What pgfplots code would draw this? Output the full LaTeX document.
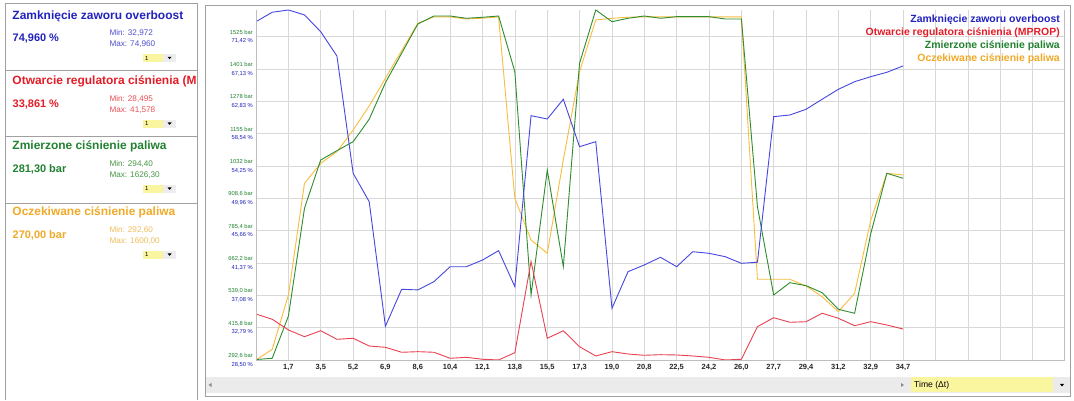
\documentclass[border=0pt]{standalone}
\usepackage{pgfplots}
\pgfplotsset{compat=1.18}
\usepackage{pgfplotstable}
\usepackage{fontspec}
\setmainfont{Liberation Sans}

\definecolor{cblue}{RGB}{34,34,190}
\definecolor{cred}{RGB}{228,28,40}
\definecolor{cgreen}{RGB}{34,130,50}
\definecolor{corange}{RGB}{240,170,40}
\definecolor{mblue}{RGB}{80,80,205}
\definecolor{mred}{RGB}{232,80,85}
\definecolor{mgreen}{RGB}{70,150,70}
\definecolor{morange}{RGB}{240,190,90}
\definecolor{lblue}{RGB}{70,70,225}
\definecolor{lred}{RGB}{232,65,80}
\definecolor{lgreen}{RGB}{45,140,45}
\definecolor{lorange}{RGB}{250,188,60}
\definecolor{gridc}{RGB}{216,216,216}
\definecolor{axisc}{RGB}{190,190,190}
\definecolor{framec}{RGB}{160,160,160}
\definecolor{ddyellow}{RGB}{250,246,160}

% time [s], overboost [%], MPROP [%], measured [bar], expected [bar]
\pgfplotstableread{
t over mprop meas exp
0.00 73.41 34.60 294.4 292.6
0.87 74.66 33.90 299.1 333.4
1.74 74.96 32.48 460.3 540.3
2.60 74.30 31.59 870.7 965.9
3.47 72.08 32.38 1054.7 1042.1
4.34 68.85 31.24 1090.2 1086.4
5.21 53.28 31.38 1124.5 1169.0
6.07 49.51 30.35 1209.8 1260.5
6.94 32.97 30.18 1349.3 1366.0
7.81 37.88 29.52 1461.3 1471.2
8.68 37.80 29.60 1573.0 1575.6
9.54 38.89 29.52 1603.4 1600.0
10.41 40.88 28.72 1603.4 1600.0
11.28 40.88 28.85 1594.7 1592.0
12.15 41.77 28.59 1598.5 1595.0
13.01 43.01 28.50 1603.4 1600.0
13.88 38.23 29.46 1391.2 908.8
14.75 60.93 41.58 540.3 749.9
15.62 60.49 31.38 1016.6 699.2
16.48 63.11 32.38 648.1 1054.7
17.35 56.81 30.26 1423.2 1391.2
18.22 57.48 29.03 1626.3 1588.2
19.09 35.36 29.60 1581.7 1594.7
19.95 40.22 29.29 1594.7 1598.5
20.82 41.11 29.12 1603.4 1600.0
21.69 42.13 29.20 1594.7 1600.0
22.56 40.88 29.16 1600.8 1600.0
23.42 42.87 29.03 1600.8 1600.0
24.29 42.66 28.85 1600.8 1600.0
25.16 42.21 28.50 1592.0 1600.0
26.03 41.33 28.59 1592.0 1600.0
26.89 41.47 32.92 876.8 600.1
27.76 60.80 34.11 540.3 600.1
28.63 61.02 33.50 587.2 600.1
29.50 61.78 33.58 575.7 574.6
30.36 63.11 34.70 549.1 533.8
31.23 64.43 34.03 485.8 476.7
32.10 65.44 33.05 470.6 546.8
32.97 66.11 33.58 775.4 826.1
33.83 66.69 33.14 1004.0 1004.0
34.70 67.53 32.61 985.0 997.6
}\logdata

% one channel box of the left panel: #1 title y (px from top), #2 colour, #3 light colour,
% #4 title, #5 value, #6 min, #7 max
\newcommand\panel[7]{%
  \node[anchor=west,inner sep=0,text=#2,font=\fontsize{12}{13}\selectfont\bfseries] at (12.3,{400-#1}) {#4};
  \node[anchor=west,inner sep=0,text=#2,font=\fontsize{11}{13}\selectfont\bfseries] at (12.5,{400-#1-22.5}) {#5};
  \node[anchor=west,inner sep=0,text=#3,font=\fontsize{8.2}{9}\selectfont] at (109.3,{400-#1-17}) {Min: #6};
  \node[anchor=west,inner sep=0,text=#3,font=\fontsize{8.2}{9}\selectfont] at (109.3,{400-#1-28}) {Max: #7};
  \fill[ddyellow] (142.7,{400-#1-38}) rectangle (163.3,{400-#1-46});
  \fill[black!7] (163.3,{400-#1-38}) rectangle (176,{400-#1-46});
  \fill[black] (167.6,{400-#1-40.8}) -- (171.6,{400-#1-40.8}) -- (169.6,{400-#1-43.2}) -- cycle;
  \node[anchor=west,inner sep=0,font=\fontsize{6}{7}\selectfont] at (145,{400-#1-42}) {1};
}

\begin{document}
\begin{tikzpicture}[x=1bp,y=1bp]
\fill[white] (0,0) rectangle (1074,400);

% left panel
\begin{scope}
\clip (5,0) rectangle (196.8,400);
\panel{16}{cblue}{mblue}{Zamknięcie zaworu overboost}{74,960 \%}{32,972}{74,960}
\panel{81.7}{cred}{mred}{Otwarcie regulatora ciśnienia (MPROP)}{33,861 \%}{28,495}{41,578}
\panel{146.7}{cgreen}{mgreen}{Zmierzone ciśnienie paliwa}{281,30 bar}{294,40}{1626,30}
\panel{212.7}{corange}{morange}{Oczekiwane ciśnienie paliwa}{270,00 bar}{292,60}{1600,00}
\end{scope}
\draw[framec] (5,0) -- (5,397) -- (197,397) -- (197,0);
\draw[framec] (5,329.3) -- (197,329.3);
\draw[framec] (5,263.3) -- (197,263.3);
\draw[framec] (5,196.7) -- (197,196.7);

% chart frame and scroll bar
\draw[framec] (205,4) rectangle (1070,395);
\fill[black!8] (205.5,7) rectangle (1069.5,23);
\fill[ddyellow] (911,7.5) rectangle (1053,22.5);
\fill[black!45] (211.5,13) -- (208.5,15) -- (211.5,17) -- cycle;
\fill[black!45] (901,13) -- (904,15) -- (901,17) -- cycle;
\fill[black] (1060,16) -- (1064,16) -- (1062,13.5) -- cycle;
\node[anchor=west,inner sep=0,font=\fontsize{8.6}{10}\selectfont] at (914,15) {Time (Δt)};

% pressure axis (bar), carries the grid and both label columns
\begin{axis}[
  name=main,
  at={(256bp,40bp)}, anchor=south west,
  width=808bp, height=350bp, scale only axis,
  xmin=0, xmax=43.33,
  ymin=292.6, ymax=1626.3,
  axis line style={draw=none},
  major tick length=0pt,
  grid=major, grid style={gridc, line width=0.6pt},
  xtick={1.735,3.47,5.205,6.94,8.675,10.41,12.145,13.88,15.615,17.35,19.085,20.82,22.555,24.29,26.025,27.76,29.495,31.23,32.965,34.7,36.435,38.17,39.905,41.64},
  xticklabels={{1,7},{3,5},{5,2},{6,9},{8,6},{10,4},{12,1},{13,8},{15,5},{17,3},{19,0},{20,8},{22,5},{24,2},{26,0},{27,7},{29,4},{31,2},{32,9},{34,7},,,,},
  xticklabel style={font=\fontsize{7.5}{8}\selectfont\bfseries, text=black!85, inner sep=0pt, yshift=-4bp},
  ytick={292.6,415.8,539.0,662.2,785.4,908.6,1031.8,1155.0,1278.2,1401.4,1524.6},
  yticklabels={
    {\textcolor{cgreen}{292,6 bar}\\\textcolor{cblue}{28,50 \%}},
    {\textcolor{cgreen}{415,8 bar}\\\textcolor{cblue}{32,79 \%}},
    {\textcolor{cgreen}{539,0 bar}\\\textcolor{cblue}{37,08 \%}},
    {\textcolor{cgreen}{662,2 bar}\\\textcolor{cblue}{41,37 \%}},
    {\textcolor{cgreen}{785,4 bar}\\\textcolor{cblue}{45,66 \%}},
    {\textcolor{cgreen}{908,6 bar}\\\textcolor{cblue}{49,96 \%}},
    {\textcolor{cgreen}{1032 bar}\\\textcolor{cblue}{54,25 \%}},
    {\textcolor{cgreen}{1155 bar}\\\textcolor{cblue}{58,54 \%}},
    {\textcolor{cgreen}{1278 bar}\\\textcolor{cblue}{62,83 \%}},
    {\textcolor{cgreen}{1401 bar}\\\textcolor{cblue}{67,13 \%}},
    {\textcolor{cgreen}{1525 bar}\\\textcolor{cblue}{71,42 \%}}},
  yticklabel style={font=\fontsize{5.8}{8.6}\selectfont, align=right, inner sep=0pt, xshift=-3bp},
]
\addplot[lorange, line width=0.9pt] table[x=t, y=exp] {\logdata};
\addplot[lgreen, line width=0.9pt] table[x=t, y=meas] {\logdata};
\end{axis}

% percent axis, same frame
\begin{axis}[
  at={(256bp,40bp)}, anchor=south west,
  width=808bp, height=350bp, scale only axis,
  xmin=0, xmax=43.33,
  ymin=28.495, ymax=74.96,
  hide axis,
]
\addplot[lred, line width=0.9pt] table[x=t, y=mprop] {\logdata};
\addplot[lblue, line width=0.9pt] table[x=t, y=over] {\logdata};
\end{axis}

\draw[axisc] (main.north west) -- (main.south west) -- (main.south east) -- (main.north east);

% legend, top right inside the plot
\begin{scope}[every node/.style={anchor=east, inner sep=0, font=\fontsize{10.5}{12}\selectfont\bfseries}]
\node[text=cblue] at (1060,380) {Zamknięcie zaworu overboost};
\node[text=cred] at (1060,367) {Otwarcie regulatora ciśnienia (MPROP)};
\node[text=cgreen] at (1060,354) {Zmierzone ciśnienie paliwa};
\node[text=corange] at (1060,341) {Oczekiwane ciśnienie paliwa};
\end{scope}
\end{tikzpicture}
\end{document}
